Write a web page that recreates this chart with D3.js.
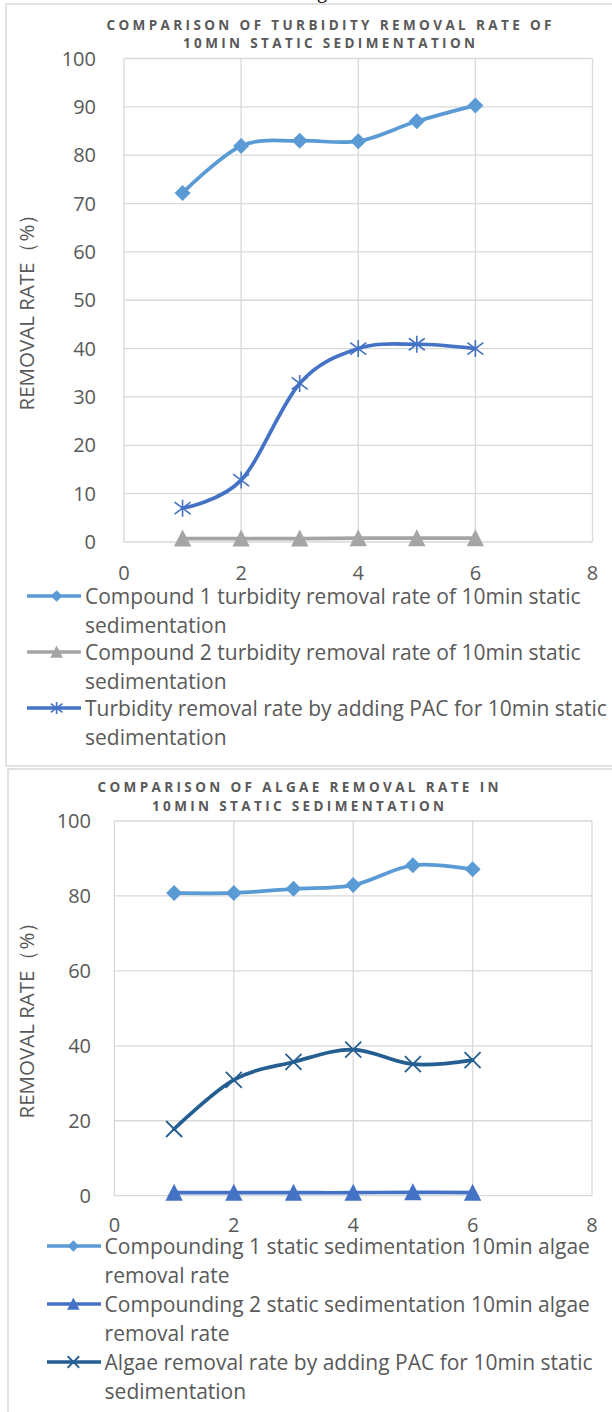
<!DOCTYPE html>
<html>
<head>
<meta charset="utf-8">
<script src="https://cdn.jsdelivr.net/npm/d3@7"></script>
<style>
  body { margin: 0; background: #fff; }
  svg { display: block; font-family: "Open Sans", "Noto Sans", sans-serif; }
</style>
</head>
<body>
<script>
// page size
var w = 612;
var h = 1412;

// x values shared by both charts
var xValues = [1, 2, 3, 4, 5, 6];
var xTicks = [0, 2, 4, 6, 8];

// chart 1: turbidity removal rate (%)
var turbTicks = [0, 10, 20, 30, 40, 50, 60, 70, 80, 90, 100];
var turbCompound1 = [72.2, 81.9, 83.0, 82.9, 87.0, 90.3];
var turbCompound2 = [0.7, 0.7, 0.7, 0.8, 0.8, 0.8];
var turbPAC = [7.0, 12.8, 32.8, 40.0, 40.9, 40.0];
var turbTitle = ["COMPARISON OF TURBIDITY REMOVAL RATE OF", "10MIN STATIC SEDIMENTATION"];
var turbLegend = [
    ["Compound 1 turbidity removal rate of 10min static", "sedimentation"],
    ["Compound 2 turbidity removal rate of 10min static", "sedimentation"],
    ["Turbidity removal rate by adding PAC for 10min static", "sedimentation"]
];

// chart 2: algae removal rate (%)
var algaeTicks = [0, 20, 40, 60, 80, 100];
var algaeCompound1 = [80.8, 80.8, 81.9, 82.9, 88.2, 87.1];
var algaeCompound2 = [0.8, 0.8, 0.8, 0.8, 0.9, 0.8];
var algaePAC = [17.8, 30.9, 35.7, 39.0, 35.1, 36.2];
var algaeTitle = ["COMPARISON OF ALGAE REMOVAL RATE IN", "10MIN STATIC SEDIMENTATION"];
var algaeLegend = [
    ["Compounding 1 static sedimentation 10min algae", "removal rate"],
    ["Compounding 2 static sedimentation 10min algae", "removal rate"],
    ["Algae removal rate by adding PAC for 10min static", "sedimentation"]
];

var yTitle = "REMOVAL RATE（%）";

// colours
var textColor = "#595959";
var gridColor = "#d9d9d9";

var svg = d3.select("body").append("svg")
    .attr("width", w)
    .attr("height", h);

// tail of the caption above, cut by the page edge
svg.append("text")
    .attr("x", 322)
    .attr("y", -2)
    .attr("text-anchor", "middle")
    .attr("font-size", 20)
    .attr("font-family", "Liberation Serif, serif")
    .attr("fill", "#000")
    .text("g");

// marker shapes
function drawMarker(g, type, color, s) {
    if (type == "diamond") {
        g.append("path")
            .attr("d", "M0," + (-8 * s) + "L" + (8 * s) + ",0L0," + (8 * s) + "L" + (-8 * s) + ",0Z")
            .attr("fill", color);
    } else if (type == "triangle") {
        g.append("path")
            .attr("d", "M0," + (-9 * s) + "L" + (8.7 * s) + "," + (8 * s) + "L" + (-8.7 * s) + "," + (8 * s) + "Z")
            .attr("fill", color);
    } else if (type == "star") {
        g.append("path")
            .attr("d", "M0," + (-8.5 * s) + "V" + (8.5 * s) +
                "M" + (-8 * s) + "," + (-6 * s) + "L" + (8 * s) + "," + (6 * s) +
                "M" + (-8 * s) + "," + (6 * s) + "L" + (8 * s) + "," + (-6 * s))
            .attr("stroke", color)
            .attr("stroke-width", 1.6)
            .attr("fill", "none");
    } else if (type == "x") {
        g.append("path")
            .attr("d", "M" + (-8 * s) + "," + (-8 * s) + "L" + (8 * s) + "," + (8 * s) +
                "M" + (-8 * s) + "," + (8 * s) + "L" + (8 * s) + "," + (-8 * s))
            .attr("stroke", color)
            .attr("stroke-width", 1.8)
            .attr("fill", "none");
    }
}

function drawChart(cfg) {
    var g = svg.append("g");

    // chart frame
    g.append("rect")
        .attr("x", cfg.box[0])
        .attr("y", cfg.box[1])
        .attr("width", cfg.box[2])
        .attr("height", cfg.box[3])
        .attr("fill", "#fff")
        .attr("stroke", gridColor)
        .attr("stroke-width", 1.5);

    var x = d3.scaleLinear().domain([0, 8]).range([cfg.left, cfg.right]);
    var y = d3.scaleLinear().domain([0, 100]).range([cfg.bottom, cfg.top]);

    // horizontal grid
    g.selectAll(".hgrid")
        .data(cfg.yTicks)
        .enter()
        .append("line")
        .attr("x1", cfg.left)
        .attr("x2", cfg.right)
        .attr("y1", function (d) { return y(d); })
        .attr("y2", function (d) { return y(d); })
        .attr("stroke", gridColor)
        .attr("stroke-width", 1.3);

    // vertical grid
    g.selectAll(".vgrid")
        .data(xTicks)
        .enter()
        .append("line")
        .attr("x1", function (d) { return x(d); })
        .attr("x2", function (d) { return x(d); })
        .attr("y1", cfg.top)
        .attr("y2", cfg.bottom)
        .attr("stroke", gridColor)
        .attr("stroke-width", 1.3);

    // y tick labels
    g.selectAll(".ylab")
        .data(cfg.yTicks)
        .enter()
        .append("text")
        .attr("x", cfg.yLabelX)
        .attr("y", function (d) { return y(d) + 7; })
        .attr("text-anchor", "end")
        .attr("font-size", 20)
        .attr("fill", textColor)
        .text(function (d) { return d; });

    // x tick labels
    g.selectAll(".xlab")
        .data(xTicks)
        .enter()
        .append("text")
        .attr("x", function (d) { return x(d); })
        .attr("y", cfg.xLabelY + 7)
        .attr("text-anchor", "middle")
        .attr("font-size", 20)
        .attr("fill", textColor)
        .text(function (d) { return d; });

    // y axis title
    g.append("text")
        .attr("transform", "translate(" + (cfg.yTitlePos[0] + 7) + "," + cfg.yTitlePos[1] + ") rotate(-90)")
        .attr("text-anchor", "middle")
        .attr("font-size", 20.5)
        .attr("fill", textColor)
        .text(yTitle);

    // chart title
    g.selectAll(".title")
        .data(cfg.title)
        .enter()
        .append("text")
        .attr("x", cfg.titleX)
        .attr("y", function (d, i) { return cfg.titleY[i] + 5; })
        .attr("text-anchor", "middle")
        .attr("font-size", 13.5)
        .attr("font-weight", "bold")
        .attr("fill", textColor)
        .attr("textLength", function (d, i) { return cfg.titleW[i]; })
        .attr("lengthAdjust", "spacing")
        .text(function (d) { return d; });

    // smoothed lines, Excel style
    var line = d3.line()
        .x(function (d) { return x(d[0]); })
        .y(function (d) { return y(d[1]); })
        .curve(d3.curveCatmullRom.alpha(0));

    cfg.series.forEach(function (s) {
        var pts = xValues.map(function (v, i) { return [v, s.values[i]]; });
        g.append("path")
            .datum(pts)
            .attr("d", line)
            .attr("fill", "none")
            .attr("stroke", s.color)
            .attr("stroke-width", 3.7)
            .attr("stroke-linejoin", "round")
            .attr("stroke-linecap", "round");

        g.selectAll(null)
            .data(pts)
            .enter()
            .append("g")
            .attr("transform", function (d) { return "translate(" + x(d[0]) + "," + y(d[1]) + ")"; })
            .each(function () {
                drawMarker(d3.select(this), s.marker, s.color, 1);
            });
    });

    // legend
    cfg.series.forEach(function (s, i) {
        var ly = cfg.legendY[i];
        g.append("line")
            .attr("x1", cfg.legendLine[0])
            .attr("x2", cfg.legendLine[1])
            .attr("y1", ly)
            .attr("y2", ly)
            .attr("stroke", s.color)
            .attr("stroke-width", 3.7);
        var mg = g.append("g")
            .attr("transform", "translate(" + cfg.legendLine[2] + "," + ly + ")");
        drawMarker(mg, s.marker, s.color, 0.72);

        s.label.forEach(function (t, j) {
            g.append("text")
                .attr("x", cfg.legendX)
                .attr("y", ly + j * 29 + 7.5)
                .attr("font-size", 21)
                .attr("fill", textColor)
                .text(t);
        });
    });
}

// ---- chart 1 ----
drawChart({
    box: [6, 4, 612, 762],
    left: 124, right: 592.5, top: 58.5, bottom: 542,
    yTicks: turbTicks,
    yLabelX: 96,
    xLabelY: 573,
    yTitlePos: [27, 307],
    title: turbTitle,
    titleX: 329,
    titleY: [25, 43],
    titleW: [445, 292],
    legendY: [596, 652, 708],
    legendLine: [27, 81, 56.6],
    legendX: 85,
    series: [
        { values: turbCompound1, color: "#5b9bd5", marker: "diamond", label: turbLegend[0] },
        { values: turbCompound2, color: "#a5a5a5", marker: "triangle", label: turbLegend[1] },
        { values: turbPAC, color: "#4472c4", marker: "star", label: turbLegend[2] }
    ]
});

// ---- chart 2 ----
drawChart({
    box: [8, 769, 612, 660],
    left: 114.4, right: 592, top: 821, bottom: 1195.7,
    yTicks: algaeTicks,
    yLabelX: 91,
    xLabelY: 1225,
    yTitlePos: [27, 1015],
    title: algaeTitle,
    titleX: 298,
    titleY: [787, 806],
    titleW: [401, 292],
    legendY: [1246, 1304, 1362],
    legendLine: [47, 101, 73.4],
    legendX: 104.6,
    series: [
        { values: algaeCompound1, color: "#5b9bd5", marker: "diamond", label: algaeLegend[0] },
        { values: algaeCompound2, color: "#4472c4", marker: "triangle", label: algaeLegend[1] },
        { values: algaePAC, color: "#255e91", marker: "x", label: algaeLegend[2] }
    ]
});
</script>
</body>
</html>
